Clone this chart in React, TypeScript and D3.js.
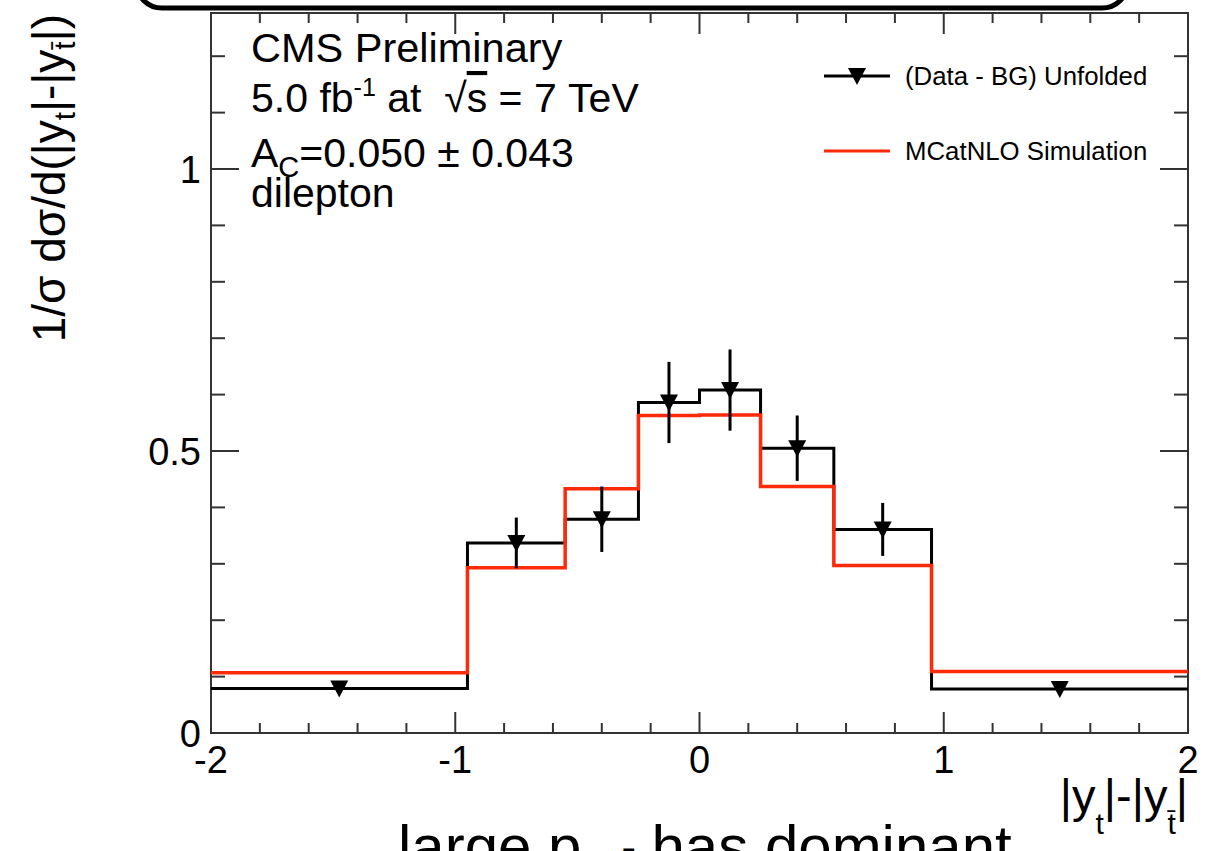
import React from "react";
import * as d3 from "d3";

const binEdges = [-2, -0.95, -0.55, -0.25, 0, 0.25, 0.55, 0.95, 2];
const dataValues = [0.079, 0.337, 0.379, 0.586, 0.608, 0.505, 0.361, 0.078];
const dataErrors = [0.006, 0.045, 0.058, 0.072, 0.072, 0.058, 0.047, 0.006];
const mcValues = [0.107, 0.293, 0.433, 0.563, 0.564, 0.437, 0.297, 0.109];
const xTickLabels = [-2, -1, 0, 1, 2];
const yTickLabels = [0, 0.5, 1];

const W = 1217;
const H = 851;
const FONT = "'Liberation Sans', Arial, Helvetica, sans-serif";
const RED = "#ff2a0a";

export default function App() {
  const L = 211, R = 1188, T = 13, B = 733;
  const x = d3.scaleLinear().domain([-2, 2]).range([L, R]);
  const y = d3.scaleLinear().domain([0, 1.2766]).range([B, T]);

  const stepPath = (vals: number[]) => {
    const pts: [number, number][] = [];
    vals.forEach((v, i) => {
      pts.push([x(binEdges[i]), y(v)]);
      pts.push([x(binEdges[i + 1]), y(v)]);
    });
    return d3.line()(pts) as string;
  };

  const xMinor = d3.range(-2, 2.0001, 0.2);
  const yMinor = d3.range(0, 1.2766, 0.1);

  const tri = (cx: number, cy: number, s = 9) =>
    `M${cx - s},${cy - 8}L${cx + s},${cy - 8}L${cx},${cy + 9}Z`;

  return (
    <svg
      width={W}
      height={H}
      style={{ position: "absolute", left: 0, top: 0, background: "#fff" }}
      fontFamily={FONT}
    >
      {/* top rounded box (slide decoration) */}
      <rect x={136} y={-60} width={992} height={68} rx={26} ry={26} fill="none" stroke="#000" strokeWidth={5} />

      {/* frame */}
      <rect x={L} y={T} width={R - L} height={B - T} fill="none" stroke="#333" strokeWidth={2} />

      {/* x ticks bottom and top */}
      {xMinor.map((v, i) => {
        const major = Math.abs(v - Math.round(v)) < 1e-6;
        const len = major ? 21 : 10;
        return (
          <g key={"xt" + i} stroke="#333" strokeWidth={2}>
            <line x1={x(v)} x2={x(v)} y1={B} y2={B - len} />
            <line x1={x(v)} x2={x(v)} y1={T} y2={T + len} />
          </g>
        );
      })}
      {/* y ticks left and right */}
      {yMinor.map((v, i) => {
        const major = Math.abs(v * 2 - Math.round(v * 2)) < 1e-6;
        const len = major ? 28 : 14;
        return (
          <g key={"yt" + i} stroke="#333" strokeWidth={2}>
            <line x1={L} x2={L + len} y1={y(v)} y2={y(v)} />
            <line x1={R} x2={R - len} y1={y(v)} y2={y(v)} />
          </g>
        );
      })}

      {/* tick labels */}
      {xTickLabels.map((v) => (
        <text key={"xl" + v} x={x(v)} y={773} fontSize={38} textAnchor="middle" fill="#000">
          {v}
        </text>
      ))}
      {yTickLabels.map((v) => (
        <text key={"yl" + v} x={201} y={y(v) + 14} fontSize={38} textAnchor="end" fill="#000">
          {v}
        </text>
      ))}

      {/* histograms */}
      <path d={stepPath(dataValues)} fill="none" stroke="#000" strokeWidth={3} />
      <path d={stepPath(mcValues)} fill="none" stroke={RED} strokeWidth={3.5} />

      {/* data points */}
      {dataValues.map((v, i) => {
        const cx = x((binEdges[i] + binEdges[i + 1]) / 2);
        return (
          <g key={"p" + i}>
            <line x1={cx} x2={cx} y1={y(v + dataErrors[i])} y2={y(v - dataErrors[i])} stroke="#000" strokeWidth={3} />
            <path d={tri(cx, y(v))} fill="#000" />
          </g>
        );
      })}

      {/* legend */}
      <line x1={824} x2={890} y1={76} y2={76} stroke="#000" strokeWidth={3} />
      <path d={tri(857, 76)} fill="#000" />
      <text x={905} y={85} fontSize={25.8} fill="#000">(Data - BG) Unfolded</text>
      <line x1={824} x2={890} y1={151} y2={151} stroke={RED} strokeWidth={3} />
      <text x={905} y={160} fontSize={25.8} fill="#000">MCatNLO Simulation</text>

      {/* CMS text */}
      <text x={251} y={62} fontSize={41.5} fill="#000">CMS Preliminary</text>
      <text x={251} y={112} fontSize={41} fill="#000">
        5.0 fb
        <tspan dy={-16} fontSize={25}>-1</tspan>
        <tspan dy={16}>{"\u00a0at\u00a0\u00a0√"}</tspan>
        <tspan style={{ textDecoration: "overline" }}>s</tspan>
        <tspan>{"\u00a0=\u00a07\u00a0TeV"}</tspan>
      </text>
      <text x={251} y={167} fontSize={41} fill="#000">
        A<tspan dy={10} fontSize={29}>C</tspan>
        <tspan dy={-10}>=0.050 ± 0.043</tspan>
      </text>
      <text x={251} y={207} fontSize={41} fill="#000">dilepton</text>

      {/* axis titles */}
      <text transform="translate(65,14) rotate(-90)" fontSize={46} textAnchor="end" fill="#000">
        1/σ dσ/d(|y<tspan dy={10} fontSize={30}>t</tspan>
        <tspan dy={-10}>|-|y</tspan>
        <tspan dy={10} fontSize={30}>t̄</tspan>
        <tspan dy={-10}>|)</tspan>
      </text>
      <text x={1188} y={812} fontSize={47} textAnchor="end" fill="#000">
        |y<tspan dy={22} fontSize={30}>t</tspan>
        <tspan dy={-22}>|-|y</tspan>
        <tspan dy={22} fontSize={30}>t̄</tspan>
        <tspan dy={-22}>|</tspan>
      </text>

      {/* slide text, cut off at bottom */}
      <text x={398} y={867} fontSize={60} fill="#000">
        large p<tspan dy={14} fontSize={40}>T,tt̄</tspan>
        <tspan dy={-14}> has dominant</tspan>
      </text>
    </svg>
  );
}
